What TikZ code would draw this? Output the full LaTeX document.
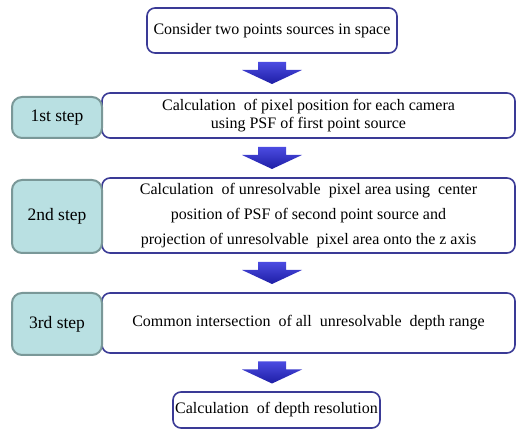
\documentclass[tikz,border=0pt]{standalone}
\usepackage{fontspec}
\setmainfont{Liberation Serif}
\usetikzlibrary{
  positioning,
  calc,
}
\definecolor{boxblue}{RGB}{58,58,150}
\definecolor{steplight}{RGB}{185,224,226}
\definecolor{stepgray}{RGB}{122,152,152}
\definecolor{arrowtop}{RGB}{75,75,225}
\definecolor{arrowbottom}{RGB}{30,30,165}
\tikzset{
  box/.style={
    rectangle,
    rounded corners=8pt,
    draw=boxblue,
    line width=1.6pt,
    fill=white,
    align=center,
    inner sep=0pt,
    font=\fontsize{16}{18}\selectfont,
  },
  task/.style={
    box,
    minimum width=413,
    minimum height=45,
  },
  stepbox/.style={
    rectangle,
    rounded corners=10pt,
    draw=stepgray,
    line width=2pt,
    fill=steplight,
    minimum width=90,
    inner sep=0pt,
    font=\fontsize{17.5}{20}\selectfont,
  },
  downarrow/.pic={
    \shade[top color=arrowtop, bottom color=arrowbottom]
      (-14,-11) -- (14,-11) -- (14,-3) -- (30,-3) -- (0,11)
      -- (-30,-3) -- (-14,-3) -- cycle;
  },
}
\begin{document}
\begin{tikzpicture}[x=1pt, y=-1pt]
  \useasboundingbox (0,0) rectangle (517,430);

  \node[box, minimum width=250, minimum height=45] (consider) at (272,30.5)
    {Consider two points sources in space};

  % steps
  \node[task, font=\fontsize{16}{17.5}\selectfont] (calc1) at (308.5,115.5)
    {Calculation \ of pixel position for each camera\\using PSF of first point source};
  \node[stepbox, minimum height=41] (s1) at (57,117.5) {1st step};

  \node[task, minimum height=75, font=\fontsize{16}{25}\selectfont] (calc2) at (308.5,215.5)
    {Calculation \ of unresolvable \ pixel area using \ center\\
     position of PSF of second point source and\\
     projection of unresolvable \ pixel area onto the z axis};
  \node[stepbox, minimum height=73] (s2) at (57,216.5) {2nd step};

  \node[task, minimum height=60] (calc3) at (308.5,323)
    {Common intersection \ of all \ unresolvable \ depth range};
  \node[stepbox, minimum height=62] (s3) at (57,324) {3rd step};

  \node[box, minimum width=207, minimum height=36] (result) at (276.5,410)
    {Calculation \ of depth resolution};

  % arrows
  \foreach \a/\b in {consider/calc1, calc1/calc2, calc2/calc3, calc3/result}
    \pic at ($(consider.south |- \a.south)!.5!(consider.south |- \b.north)$) {downarrow};
\end{tikzpicture}
\end{document}
